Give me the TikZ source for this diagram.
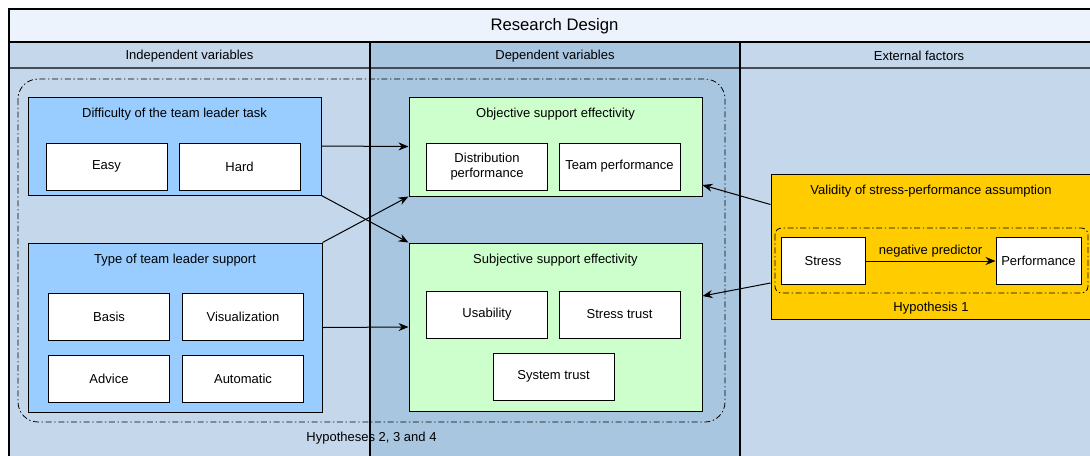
\documentclass[tikz,border=0pt]{standalone}
\usepackage{fontspec}
\setmainfont{Liberation Sans}
\usetikzlibrary{arrows.meta,positioning,calc}
\definecolor{titlebg}{RGB}{236,243,253}
\definecolor{lanelight}{RGB}{196,215,235}
\definecolor{lanedark}{RGB}{169,198,224}
\definecolor{supportblue}{RGB}{153,204,255}
\definecolor{effectgreen}{RGB}{204,255,204}
\definecolor{validyellow}{RGB}{255,204,0}
\definecolor{headline}{RGB}{70,75,85}

\begin{document}
\begin{tikzpicture}[x=0.75pt, y=-0.75pt,
    group/.style={draw, line width=0.75pt, inner sep=0},
    item/.style={draw, fill=white, line width=0.75pt, minimum width=90.75pt, minimum height=35.25pt, align=center, inner sep=1pt, font=\fontsize{9.75}{11.5}\selectfont},
    gtitle/.style={inner sep=2pt, font=\fontsize{9.75}{11.5}\selectfont},
    lanetext/.style={font=\fontsize{9.75}{11.5}\selectfont},
    hypo/.style={draw, line width=0.6pt, dash pattern=on 4.5pt off 2pt on 1pt off 2pt},
    arrow/.style={-{Stealth[length=7.5pt, width=6pt, inset=2.5pt]}, line width=0.75pt}
]
\useasboundingbox (0,0) rectangle (1090,455);
\clip (0,0) rectangle (1090,455);

% Lanes
\fill[titlebg] (9,9) rectangle (1100,42);
\fill[lanelight] (9,42) rectangle (370,460);
\fill[lanedark] (370,42) rectangle (740,460);
\fill[lanelight] (740,42) rectangle (1100,460);
\draw[headline, line width=1.1pt] (9,68) -- (1100,68);
\draw[line width=1.1pt] (9,460) -- (9,9) -- (1100,9);
\draw[line width=1.1pt] (9,42) -- (1100,42);
\draw[line width=1.1pt] (370,42) -- (370,460);
\draw[line width=1.1pt] (740,42) -- (740,460);

\node[font=\fontsize{12.5}{14}\selectfont] (title) at (554.5,26) {Research Design};
\node[lanetext] (indep) at (189.5,56) {Independent variables};
\node[lanetext] (dep) at (555,56) {Dependent variables};
\node[lanetext] (ext) at (919,56) {External factors};

% Hypotheses 2, 3 and 4
\draw[hypo, rounded corners=15pt] (18,79) rectangle (725,422);
\node[lanetext] (hyp234) at (371.5,438.5) {Hypotheses 2, 3 and 4};

% Independent variables
\node[group, fill=supportblue, minimum width=219.75pt, minimum height=73.5pt] (diff) at (174.5,146) {};
\node[gtitle, below=6.5pt of diff.north] (diff-t) {Difficulty of the team leader task};
\node[item] (easy) at (106.5,166.5) {Easy};
\node[item] (hard) at (239.5,166.5) {Hard};

\node[group, fill=supportblue, minimum width=220.5pt, minimum height=126.75pt] (type) at (175,327.5) {};
\node[gtitle, below=6.5pt of type.north] (type-t) {Type of team leader support};
\node[item] (basis) at (109,316.5) {Basis};
\node[item] (visual) at (243,316.5) {Visualization};
\node[item] (advice) at (109,379) {Advice};
\node[item] (automatic) at (243,379) {Automatic};

% Dependent variables
\node[group, fill=effectgreen, minimum width=219.75pt, minimum height=74.25pt] (obj) at (555.5,146.5) {};
\node[gtitle, below=6.5pt of obj.north] (obj-t) {Objective support effectivity};
\node[item] (distr) at (487,166.5) {Distribution\\performance};
\node[item] (teamperf) at (619.5,166.5) {Team performance};

\node[group, fill=effectgreen, minimum width=219.75pt, minimum height=126pt] (subj) at (555.5,327) {};
\node[gtitle, below=6.5pt of subj.north] (subj-t) {Subjective support effectivity};
\node[item] (usab) at (487,314.5) {Usability};
\node[item] (strtrust) at (619.5,314.5) {Stress trust};
\node[item] (systrust) at (553.5,376.5) {System trust};

% External factors
\node[group, fill=validyellow, minimum width=240pt, minimum height=108.75pt] (valid) at (931,246.5) {};
\node[gtitle, below=6.5pt of valid.north] (valid-t) {Validity of stress-performance assumption};
\draw[hypo, rounded corners=5pt] (775,228) rectangle (1088,293);
\node[item, minimum width=63pt] (stress) at (823,261) {Stress};
\node[item, minimum width=63.75pt] (perf) at (1038.5,261) {Performance};
\node[lanetext] (hyp1) at (931,308.5) {Hypothesis 1};

% Arrows
\draw[arrow] (diff.east) -- (obj.west);
\draw[arrow] (diff.south east) -- (subj.north west);
\draw[arrow] (type.north east) -- (obj.south west);
\draw[arrow] (type.east) -- (subj.west);
\draw[arrow] ($(valid.west)+(0,-42)$) -- ($(obj.east)+(0,38.5)$);
\draw[arrow] ($(valid.west)+(0,36.5)$) -- ($(subj.east)+(0,-31)$);
\draw[arrow] (stress) -- node[lanetext, above=-0.5pt] (negpred) {negative predictor} (perf);

\end{tikzpicture}
\end{document}
